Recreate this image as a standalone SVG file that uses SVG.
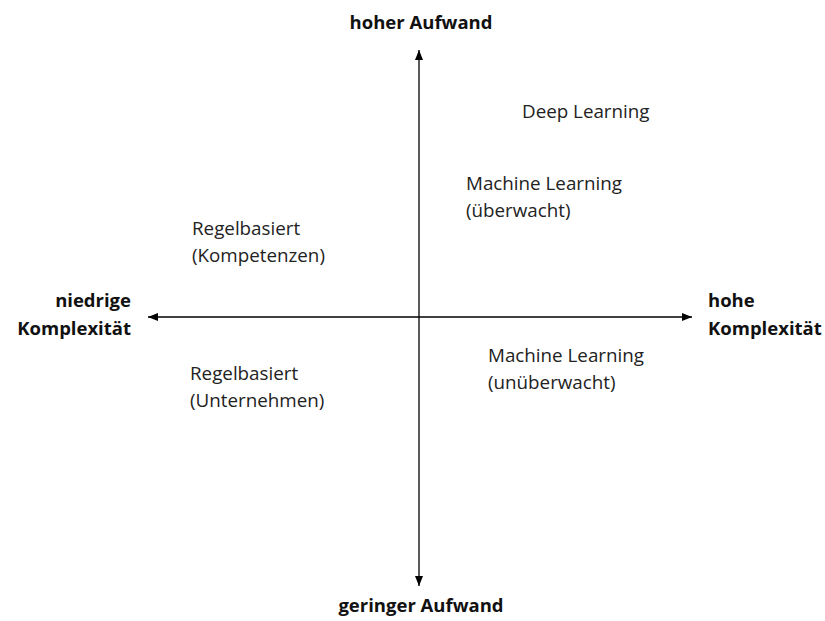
<svg xmlns="http://www.w3.org/2000/svg" width="825" height="621" viewBox="0 0 825 621">
<style>
text{font-family:"Open Sans","Noto Sans","DejaVu Sans",sans-serif;fill:#222;}
.l{font-size:18.8px;}
.b{font-size:18.5px;font-weight:bold;fill:#111;}
.ax{stroke:#000;stroke-width:1.3;fill:none;}
</style>
<defs>
<marker id="ah" viewBox="0 0 10 10" refX="10" refY="5" markerWidth="10" markerHeight="10" markerUnits="userSpaceOnUse" orient="auto-start-reverse">
<path d="M0,1 L10,5 L0,9 Z" fill="#000"/>
</marker>
</defs>
<rect width="825" height="621" fill="#fff"/>
<g id="connectors">
<line class="ax" x1="419" y1="50" x2="419" y2="586" marker-start="url(#ah)" marker-end="url(#ah)"/>
<line class="ax" x1="148" y1="317" x2="692" y2="317" marker-start="url(#ah)" marker-end="url(#ah)"/>
</g>
<g id="axis-top"><text class="b" x="421" y="29" text-anchor="middle">hoher Aufwand</text></g>
<g id="axis-bottom"><text class="b" x="421" y="612" text-anchor="middle">geringer Aufwand</text></g>
<g id="axis-left"><text class="b" x="131" y="307" text-anchor="end">niedrige</text><text class="b" x="131" y="335" text-anchor="end">Komplexität</text></g>
<g id="axis-right"><text class="b" x="708" y="307">hohe</text><text class="b" x="708" y="335">Komplexität</text></g>
<g id="deep-learning"><text class="l" x="522" y="118">Deep Learning</text></g>
<g id="ml-supervised"><text class="l" x="466" y="190">Machine Learning</text><text class="l" x="466" y="217">(überwacht)</text></g>
<g id="rule-competence"><text class="l" x="192" y="235">Regelbasiert</text><text class="l" x="192" y="262">(Kompetenzen)</text></g>
<g id="rule-company"><text class="l" x="190" y="380">Regelbasiert</text><text class="l" x="190" y="407">(Unternehmen)</text></g>
<g id="ml-unsupervised"><text class="l" x="488" y="362">Machine Learning</text><text class="l" x="488" y="389">(unüberwacht)</text></g>
</svg>
